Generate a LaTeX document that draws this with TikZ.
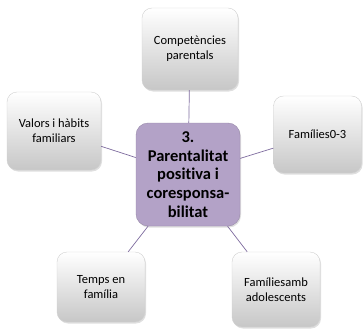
\documentclass[tikz,border=0pt]{standalone}
\usepackage{fontspec}
\setmainfont{Carlito}[Ligatures={NoCommon}]
\usetikzlibrary{shadows}
\definecolor{linkcol}{HTML}{7E6B9E}
\definecolor{centfill}{HTML}{B3A2C7}
\definecolor{boxedge}{HTML}{D0D0D0}
\tikzset{
  outer/.style={draw=boxedge, line width=0.4pt, rounded corners=10pt,
    top color=white, bottom color=black!22, align=center,
    font=\fontsize{12.5}{15}\selectfont,
    drop shadow={opacity=0.25, shadow xshift=1pt, shadow yshift=-1.5pt}},
  centre/.style={draw=centfill!85!black, line width=0.4pt, rounded corners=12pt,
    fill=centfill, align=center, font=\bfseries\fontsize{16.5}{18.7}\selectfont,
    minimum width=104pt, minimum height=103pt, inner sep=1pt,
    drop shadow={opacity=0.25, shadow xshift=1pt, shadow yshift=-1.5pt}},
  link/.style={draw=linkcol, line width=0.7pt}
}
\begin{document}
\begin{tikzpicture}[x=1pt,y=-1pt]
\useasboundingbox (0,0) rectangle (363,329);
\node[outer, minimum width=96pt, minimum height=82pt] (top) at (190,49) {Competències\\parentals};
\node[outer, minimum width=94pt, minimum height=78pt] (valors) at (54,131) {Valors i hàbits\\familiars};
\node[outer, minimum width=88pt, minimum height=77pt] (f03) at (317.5,134.5) {Famílies0-3};
\node[outer, minimum width=88pt, minimum height=70pt] (temps) at (101,287) {Temps en\\família};
\node[outer, minimum width=88pt, minimum height=75pt] (adol) at (276,289.5) {Famíliesamb\\adolescents};
\node[centre] (c) at (188,174.5) {3.\\Parentalitat\\positiva i\\coresponsa-\\bilitat};
\draw[link] (c) -- (top);
\draw[link] (c) -- (valors);
\draw[link] (c) -- (f03);
\draw[link] (c) -- (temps);
\draw[link] (c) -- (adol);
\end{tikzpicture}
\end{document}
